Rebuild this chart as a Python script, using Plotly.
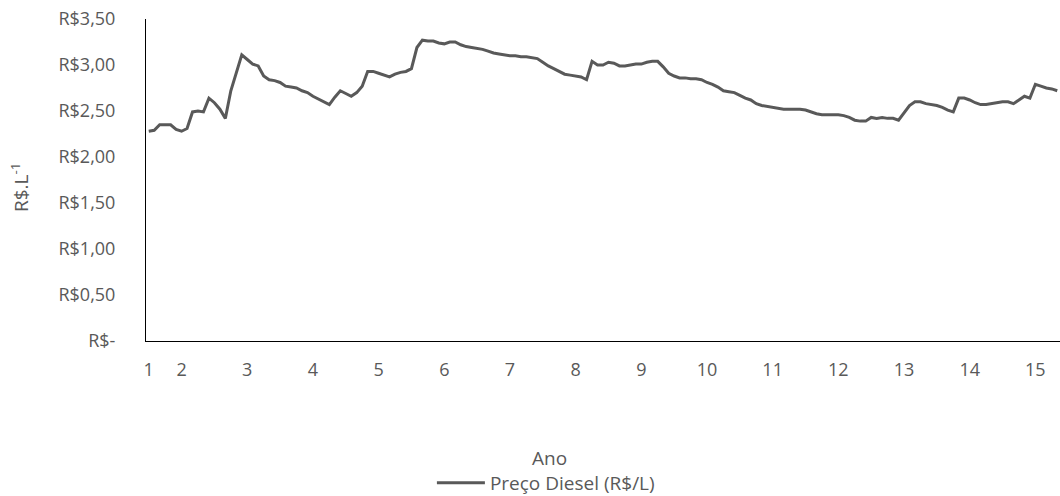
import plotly.graph_objects as go

# Preço médio mensal do diesel (R$/L), um valor por mês
preco_diesel = [
    2.28, 2.29, 2.35, 2.35, 2.35, 2.30, 2.28, 2.31, 2.49, 2.50,
    2.49, 2.64, 2.59, 2.52, 2.42, 2.72, 2.92, 3.11, 3.06, 3.01,
    2.99, 2.88, 2.84, 2.83, 2.81, 2.77, 2.76, 2.75, 2.72, 2.70,
    2.66, 2.63, 2.60, 2.57, 2.65, 2.72, 2.69, 2.66, 2.70, 2.77,
    2.93, 2.93, 2.91, 2.89, 2.87, 2.90, 2.92, 2.93, 2.96, 3.19,
    3.27, 3.26, 3.26, 3.24, 3.23, 3.25, 3.25, 3.22, 3.20, 3.19,
    3.18, 3.17, 3.15, 3.13, 3.12, 3.11, 3.10, 3.10, 3.09, 3.09,
    3.08, 3.07, 3.03, 2.99, 2.96, 2.93, 2.90, 2.89, 2.88, 2.87,
    2.84, 3.04, 3.00, 3.00, 3.03, 3.02, 2.99, 2.99, 3.00, 3.01,
    3.01, 3.03, 3.04, 3.04, 2.98, 2.91, 2.88, 2.86, 2.86, 2.85,
    2.85, 2.84, 2.81, 2.79, 2.76, 2.72, 2.71, 2.70, 2.67, 2.64,
    2.62, 2.58, 2.56, 2.55, 2.54, 2.53, 2.52, 2.52, 2.52, 2.52,
    2.51, 2.49, 2.47, 2.46, 2.46, 2.46, 2.46, 2.45, 2.43, 2.40,
    2.39, 2.39, 2.43, 2.42, 2.43, 2.42, 2.42, 2.40, 2.48, 2.56,
    2.60, 2.60, 2.58, 2.57, 2.56, 2.54, 2.51, 2.49, 2.64, 2.64,
    2.62, 2.59, 2.57, 2.57, 2.58, 2.59, 2.60, 2.60, 2.58, 2.62,
    2.66, 2.64, 2.79, 2.77, 2.75, 2.74, 2.72,
]
meses = list(range(len(preco_diesel)))

# Rótulos do eixo X: o ano 1 começa no primeiro mês, os demais a cada 12 meses a partir do mês 6
anos = [str(a) for a in range(1, 16)]
mes_do_ano = [0] + [6 + 12 * k for k in range(14)]

# Rótulos do eixo Y em reais
valores_y = [0, 0.5, 1.0, 1.5, 2.0, 2.5, 3.0, 3.5]
rotulos_y = ["R$-", "R$0,50", "R$1,00", "R$1,50", "R$2,00", "R$2,50", "R$3,00", "R$3,50"]

cinza = "#595959"
fonte = "Open Sans"

fig = go.Figure()
fig.add_trace(go.Scatter(
    x=meses,
    y=preco_diesel,
    mode="lines",
    name="Preço Diesel (R$/L)",
    line=dict(color=cinza, width=3),
))

fig.update_layout(
    width=1060,
    height=496,
    autosize=False,
    margin=dict(l=146, r=0, t=19, b=155, autoexpand=False),
    paper_bgcolor="white",
    plot_bgcolor="white",
    font=dict(family=fonte, size=18, color=cinza),
    showlegend=True,
    legend=dict(
        orientation="h",
        xref="container", yref="paper",
        x=0.515, y=(341 - 483) / 322,
        xanchor="center", yanchor="middle",
        itemwidth=48,
        font=dict(family=fonte, size=19, color=cinza),
    ),
    xaxis=dict(
        range=[-0.5, len(preco_diesel) - 0.5],
        tickmode="array",
        tickvals=mes_do_ano,
        ticktext=anos,
        showgrid=False,
        zeroline=False,
        showline=True,
        linecolor="#000000",
        linewidth=1,
        ticks="",
        ticklabelstandoff=12,
        tickfont=dict(family=fonte, size=18, color=cinza),
    ),
    yaxis=dict(
        range=[0, 3.5],
        tickmode="array",
        tickvals=valores_y,
        ticktext=rotulos_y,
        showgrid=False,
        zeroline=False,
        showline=True,
        linecolor="#000000",
        linewidth=1,
        ticks="",
        ticklabelstandoff=26,
        tickfont=dict(family=fonte, size=18, color=cinza),
    ),
    annotations=[
        dict(
            text="Ano",
            xref="paper", yref="paper",
            x=(549 - 146) / 914, y=(341 - 458) / 322,
            xanchor="center", yanchor="middle",
            showarrow=False,
            font=dict(family=fonte, size=19, color=cinza),
        ),
        dict(
            text="R$.L<sup>-1</sup>",
            xref="paper", yref="paper",
            x=(20 - 146) / 914, y=(341 - 188) / 322,
            xanchor="center", yanchor="middle",
            textangle=-90,
            showarrow=False,
            font=dict(family=fonte, size=19, color=cinza),
        ),
    ],
)

fig.write_html("out.html")
